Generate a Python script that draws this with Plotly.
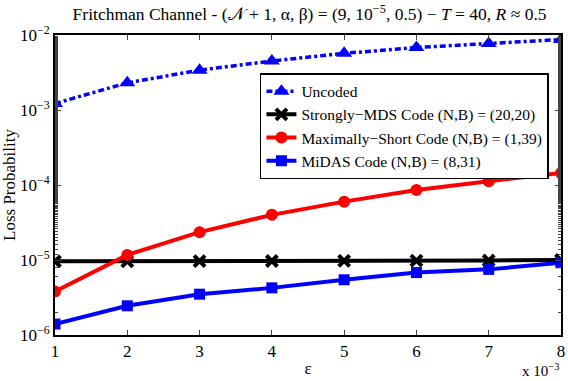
import plotly.graph_objects as go

eps = [1, 2, 3, 4, 5, 6, 7, 8]
uncoded = [1.22e-3, 2.3e-3, 3.4e-3, 4.5e-3, 5.7e-3, 6.8e-3, 7.7e-3, 8.7e-3]
mds = [9.6e-6, 9.6e-6, 9.65e-6, 9.7e-6, 9.75e-6, 9.8e-6, 9.85e-6, 1.0e-5]
short = [3.8e-6, 1.17e-5, 2.35e-5, 4.0e-5, 6.0e-5, 8.6e-5, 1.12e-4, 1.45e-4]
midas = [1.4e-6, 2.45e-6, 3.5e-6, 4.25e-6, 5.45e-6, 6.8e-6, 7.5e-6, 9.2e-6]

names = ["Uncoded", "Strongly\u2212MDS Code (N,B) = (20,20)",
         "Maximally\u2212Short Code (N,B) = (1,39)", "MiDAS Code (N,B) = (8,31)"]
ytickvals = [1e-6, 1e-5, 1e-4, 1e-3, 1e-2]
yticktext = ["10<sup>\u22126</sup>", "10<sup>\u22125</sup>", "10<sup>\u22124</sup>",
             "10<sup>\u22123</sup>", "10<sup>\u22122</sup>"]

FONT = "Liberation Serif"
fig = go.Figure()
fig.add_trace(go.Scatter(x=eps, y=uncoded, name=names[0], mode="lines+markers",
                         line=dict(color="#0000ff", width=3.5, dash="6px,3px,3px,3px"),
                         marker=dict(symbol="triangle-up", size=14, color="#0000ff")))
fig.add_trace(go.Scatter(x=eps, y=mds, name=names[1], mode="lines+markers",
                         line=dict(color="black", width=4),
                         marker=dict(symbol="x-thin", size=11, color="black",
                                     line=dict(color="black", width=4))))
fig.add_trace(go.Scatter(x=eps, y=short, name=names[2], mode="lines+markers",
                         line=dict(color="#ff0000", width=4),
                         marker=dict(symbol="circle", size=12, color="#ff0000")))
fig.add_trace(go.Scatter(x=eps, y=midas, name=names[3], mode="lines+markers",
                         line=dict(color="#0000ff", width=4),
                         marker=dict(symbol="square", size=11, color="#0000ff")))

fig.update_layout(
    width=568, height=381,
    margin=dict(l=55, r=3, t=35, b=46),
    plot_bgcolor="white", paper_bgcolor="white",
    font=dict(family=FONT, size=16, color="black"),
    title=dict(text="Fritchman Channel - (\U0001d4a9 + 1, \u03b1, \u03b2) = (9, 10<sup>\u22125</sup>, 0.5) \u2212 <i>T</i> = 40, <i>R</i> \u2248 0.5",
               x=0.545, xanchor="center", y=0.98, yanchor="top",
               font=dict(family=FONT, size=17.5)),
    showlegend=True,
    legend=dict(x=0.405, y=0.873, xanchor="left", yanchor="top",
                bordercolor="black", borderwidth=1.5, bgcolor="white",
                font=dict(family=FONT, size=15.5), tracegroupgap=0,
                itemwidth=30),
)
fig.update_xaxes(range=[1, 8], tickvals=eps, ticks="inside", ticklen=5,
                 showline=True, linecolor="black", linewidth=2, mirror="ticks",
                 showgrid=False, zeroline=False,
                 title=dict(text="\u03b5", font=dict(family=FONT, size=17), standoff=2),
                 tickfont=dict(family=FONT, size=17))
fig.update_yaxes(type="log", range=[-6, -2], tickvals=ytickvals, ticktext=yticktext,
                 ticks="inside", ticklen=6,
                 minor=dict(ticks="inside", ticklen=3, showgrid=False),
                 showline=True, linecolor="black", linewidth=2, mirror="ticks",
                 showgrid=False, zeroline=False,
                 title=dict(text="Loss Probability", font=dict(family=FONT, size=17), standoff=2),
                 tickfont=dict(family=FONT, size=17))
fig.add_annotation(text="x 10<sup>\u22123</sup>", xref="paper", yref="paper",
                   x=1.0, y=-0.152, xanchor="right", yanchor="bottom", showarrow=False,
                   font=dict(family=FONT, size=15))
fig.write_html("out.html")
